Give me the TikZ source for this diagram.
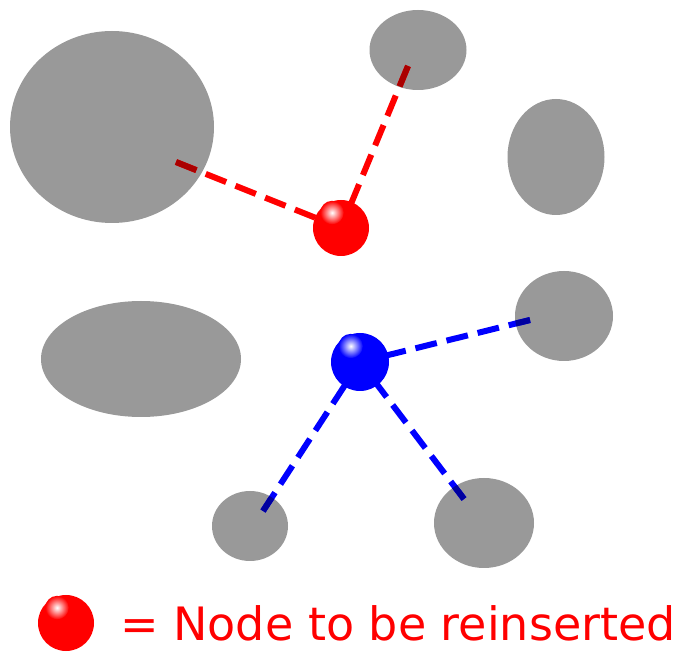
\documentclass[tikz,border=0pt]{standalone}
\usepackage{fontspec}
\setmainfont{DejaVu Sans}
\usetikzlibrary{shapes.geometric}
\definecolor{blobgray}{RGB}{153,153,153}
\definecolor{darkred}{RGB}{170,0,0}
\definecolor{darkblue}{RGB}{0,0,160}
\tikzset{
  blob/.style={ellipse, fill=blobgray, inner sep=0pt},
  link/.style={line width=6pt, dash pattern=on 22pt off 10pt, line cap=butt},
  ballnode/.style={circle, inner sep=0pt, minimum size=#1},
}
\newcommand{\myball}[5]{% name, x, y, radius, color
  \fill[#5] (#2,#3) circle [radius=#4];
  \shade[inner color=white, outer color=#5] ($(#2,#3)+(-0.32*#4,-0.55*#4)$) circle [radius=0.42*#4];
  \node[ballnode=2*#4 pt] (#1) at (#2,#3) {};
}
\usetikzlibrary{calc}
\begin{document}
\begin{tikzpicture}[x=1pt,y=-1pt]
\useasboundingbox (0,0) rectangle (681,652);
% blobs
\node[blob, minimum width=204pt, minimum height=192pt] (e1) at (112,127) {};
\node[blob, minimum width=97pt, minimum height=80pt] (e2) at (418,50) {};
\node[blob, minimum width=97pt, minimum height=116pt] (e3) at (556,157) {};
\node[blob, minimum width=200pt, minimum height=116pt] (e4) at (141,359) {};
\node[blob, minimum width=98pt, minimum height=90pt] (e5) at (564,316) {};
\node[blob, minimum width=76pt, minimum height=70pt] (e6) at (250,526) {};
\node[blob, minimum width=100pt, minimum height=90pt] (e7) at (484,523) {};
% link endpoints
\coordinate (p1) at (176,162);
\coordinate (p2) at (408,66);
\coordinate (p5) at (530,320);
\coordinate (p6) at (263,511);
\coordinate (p7) at (464,499);
\coordinate (rc) at (341,228);
\coordinate (bc) at (360,362);
% links
\draw[link, red] (p1) -- (rc);
\draw[link, red] (p2) -- (rc);
\draw[link, blue] (p5) -- (bc);
\draw[link, blue] (p6) -- (bc);
\draw[link, blue] (p7) -- (bc);
\begin{scope}
  \clip (112,127) ellipse [x radius=102, y radius=96];
  \draw[link, darkred] (p1) -- (rc);
\end{scope}
\begin{scope}
  \clip (418,50) ellipse [x radius=48.5, y radius=40];
  \draw[link, darkred] (p2) -- (rc);
\end{scope}
\begin{scope}
  \clip (564,316) ellipse [x radius=49, y radius=45];
  \draw[link, darkblue] (p5) -- (bc);
\end{scope}
\begin{scope}
  \clip (250,526) ellipse [x radius=38, y radius=35];
  \draw[link, darkblue] (p6) -- (bc);
\end{scope}
\begin{scope}
  \clip (484,523) ellipse [x radius=50, y radius=45];
  \draw[link, darkblue] (p7) -- (bc);
\end{scope}
% balls
\myball{redball}{341}{228}{28}{red}
\myball{blueball}{360}{362}{29}{blue}
% legend
\myball{legball}{66}{623}{28}{red}
\node[anchor=base west, text=red, font=\fontsize{46}{50}\selectfont, inner sep=0pt] (legtext) at (120,640) {= Node to be reinserted};
\end{tikzpicture}
\end{document}
